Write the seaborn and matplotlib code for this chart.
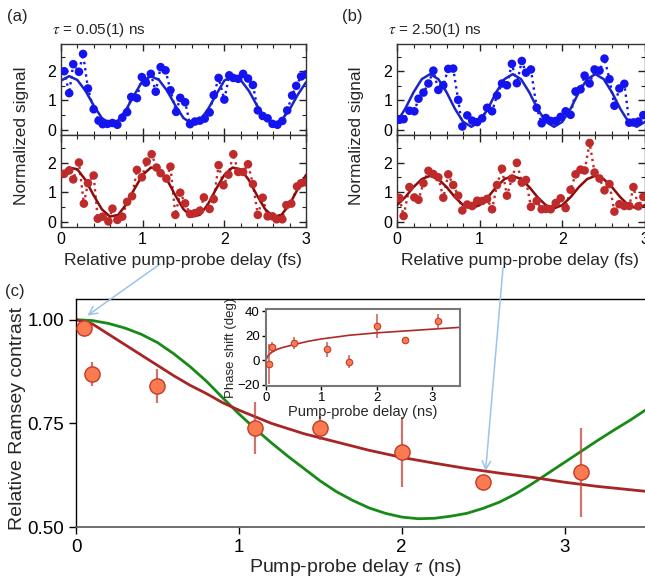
import matplotlib
matplotlib.use("Agg")
import matplotlib.pyplot as plt
import seaborn as sns
import pandas as pd
from matplotlib.ticker import MultipleLocator, FixedLocator, FixedFormatter

# ---------------- data ----------------
# panel (a): tau = 0.05 ns
a_x_top = [0.04,0.10,0.15,0.22,0.27,0.33,0.40,0.46,0.51,0.57,0.63,0.69,0.75,0.81,0.86,0.93,0.99,1.04,1.10,1.16,
           1.22,1.28,1.34,1.41,1.46,1.52,1.58,1.64,1.70,1.76,1.82,1.87,1.93,2.00,2.06,2.11,2.17,2.23,2.29,2.35,
           2.41,2.47,2.53,2.59,2.65,2.71,2.77,2.83,2.88,2.94,3.00]
a_y_top = [2.00,1.25,2.24,1.98,2.59,1.41,0.70,0.31,0.19,0.20,0.23,0.17,0.41,0.60,1.12,1.08,1.80,1.61,1.91,1.30,
           2.14,2.03,1.35,0.61,1.09,0.94,0.19,0.28,0.31,0.38,0.59,1.18,1.77,1.03,1.86,1.77,1.74,1.91,1.75,1.53,
           0.66,0.47,0.39,0.20,0.17,0.30,0.66,1.17,1.50,1.82,1.89]
a_x_bot = [0.04,0.10,0.15,0.22,0.28,0.33,0.40,0.45,0.51,0.58,0.63,0.69,0.75,0.81,0.87,0.93,0.99,1.05,1.11,1.17,
           1.22,1.29,1.34,1.40,1.46,1.52,1.58,1.64,1.70,1.75,1.82,1.87,1.93,1.99,2.05,2.11,2.17,2.23,2.29,2.35,
           2.41,2.47,2.53,2.59,2.64,2.71,2.76,2.82,2.89,2.94,3.00]
a_y_bot = [1.62,1.73,1.43,2.00,0.61,1.30,1.56,0.10,0.17,0.01,0.44,0.06,0.17,0.67,0.86,1.75,1.50,2.03,2.28,1.83,
           1.64,1.46,1.86,0.23,0.98,0.62,0.26,0.29,0.37,0.82,0.43,0.76,1.91,1.23,1.59,2.28,1.68,1.68,1.94,1.27,
           0.23,0.81,0.18,0.18,0.08,0.08,0.56,0.61,1.19,1.30,1.33]

# panel (b): tau = 2.50 ns
b_x = [0.03,0.08,0.15,0.21,0.26,0.32,0.38,0.44,0.50,0.56,0.62,0.68,0.74,0.79,0.85,0.91,0.97,1.03,1.09,1.15,
       1.21,1.27,1.33,1.39,1.45,1.51,1.56,1.62,1.69,1.75,1.80,1.86,1.92,1.98,2.04,2.10,2.16,2.22,2.27,2.33,
       2.39,2.45,2.51,2.57,2.63,2.69,2.75,2.81,2.86,2.92,2.98]
b_y_top = [0.34,0.36,0.65,0.63,1.06,1.27,1.58,2.02,1.36,1.52,2.08,2.09,1.02,0.11,0.49,0.31,0.26,0.39,0.75,0.63,
           1.17,1.58,1.52,2.25,1.59,2.35,1.95,2.06,0.75,0.22,0.40,0.30,0.30,0.44,0.63,0.51,1.31,1.38,1.85,1.58,
           2.06,2.02,2.43,1.73,0.82,1.41,1.57,0.24,0.25,0.28,0.50]
b_y_bot = [0.80,0.19,1.17,0.82,0.74,1.30,1.72,1.61,1.50,0.81,1.60,1.24,0.88,0.38,0.58,0.53,0.71,0.70,0.77,0.42,
           1.24,1.79,0.88,1.46,1.99,1.32,1.41,0.50,0.70,0.42,0.43,0.42,0.63,0.79,0.46,1.08,1.60,1.76,1.73,2.66,
           1.66,1.46,1.06,1.27,0.34,0.59,0.53,0.53,1.17,0.52,0.84]

# fitted sinusoids, read at 0.1 fs steps
fit_x = [0.0,0.1,0.2,0.3,0.4,0.5,0.6,0.7,0.8,0.9,1.0,1.1,1.2,1.3,1.4,1.5,1.6,1.7,1.8,1.9,
         2.0,2.1,2.2,2.3,2.4,2.5,2.6,2.7,2.8,2.9,3.0]
a_fit_top = [1.68,1.83,1.70,1.33,0.83,0.40,0.21,0.32,0.70,1.20,
             1.68,1.83,1.70,1.33,0.83,0.40,0.21,0.32,0.70,1.20,
             1.68,1.83,1.70,1.33,0.83,0.40,0.21,0.32,0.70,1.20,1.62]
a_fit_bot = [1.58,1.83,1.77,1.41,0.89,0.42,0.17,0.23,0.59,1.11,
             1.58,1.83,1.77,1.41,0.89,0.42,0.17,0.23,0.59,1.11,
             1.58,1.83,1.77,1.41,0.89,0.42,0.17,0.23,0.59,1.11,1.58]
b_fit_top = [0.27,0.72,1.28,1.73,1.90,1.73,1.28,0.72,0.27,0.10,
             0.27,0.72,1.28,1.73,1.90,1.73,1.28,0.72,0.27,0.10,
             0.27,0.72,1.28,1.73,1.90,1.73,1.28,0.72,0.27,0.10,0.27]
b_fit_bot = [0.56,0.83,1.17,1.44,1.55,1.44,1.17,0.83,0.56,0.45,
             0.56,0.83,1.17,1.44,1.55,1.44,1.17,0.83,0.56,0.45,
             0.56,0.83,1.17,1.44,1.55,1.44,1.17,0.83,0.56,0.45,0.56]

# panel (c): Ramsey contrast
c_delay = [0.05, 0.10, 0.50, 1.10, 1.50, 2.00, 2.50, 3.10]
c_contrast = [0.980, 0.869, 0.840, 0.738, 0.739, 0.681, 0.608, 0.632]
c_err = [0.015, 0.028, 0.042, 0.063, 0.028, 0.084, 0.0, 0.108]

c_red_x = [0.0,0.1,0.2,0.3,0.4,0.5,0.6,0.7,0.8,0.9,1.0,1.2,1.4,1.6,1.8,2.0,2.2,2.4,2.6,2.8,3.0,3.2,3.4,3.5]
c_red_y = [1.000,0.990,0.965,0.940,0.915,0.890,0.865,0.842,0.822,0.800,0.782,0.750,0.725,0.705,0.685,
           0.668,0.654,0.641,0.630,0.620,0.608,0.598,0.590,0.586]
c_green_x = [0.0,0.1,0.2,0.3,0.4,0.5,0.6,0.7,0.8,0.9,1.0,1.1,1.2,1.3,1.4,1.5,1.6,1.7,1.8,1.9,
             2.0,2.1,2.2,2.3,2.4,2.5,2.6,2.7,2.8,2.9,3.0,3.1,3.2,3.3,3.4,3.5]
c_green_y = [1.000,0.998,0.991,0.980,0.965,0.945,0.918,0.887,0.852,0.812,0.773,0.737,0.703,0.671,0.641,
             0.611,0.585,0.564,0.546,0.533,0.524,0.520,0.521,0.526,0.533,0.545,0.560,0.580,0.604,0.630,
             0.656,0.682,0.708,0.733,0.757,0.783]

# inset: phase shift
ins_delay = [0.05, 0.10, 0.50, 1.10, 1.50, 2.00, 2.50, 3.10]
ins_phase = [-3, 11, 14, 9, -1, 28, 17, 32]
ins_err = [16, 4, 5, 6, 5, 10, 0, 6]
ins_fit_x = [0.0,0.02,0.05,0.1,0.2,0.3,0.5,0.75,1.0,1.5,2.0,2.5,3.0,3.5]
ins_fit_y = [0.0,2.5,4.5,6.5,9.0,10.5,12.8,15.5,17.5,20.5,22.5,24.0,25.5,27.0]

# ---------------- style ----------------
sns.set_theme(style="ticks")
plt.rcParams["font.family"] = ["Liberation Sans", "DejaVu Sans"]
plt.rcParams["mathtext.fontset"] = "stix"
NARROW = ["Liberation Sans Narrow", "Liberation Sans", "DejaVu Sans"]

BLUE_PT = "#1414f0"
BLUE_LN = "#1a26c4"
RED_PT = "#bf2a2a"
RED_LN = "#8c0b0b"
C_RED = "#a82525"
C_GREEN = "#178a17"
C_FACE = "#fb7b50"
C_EDGE = "#c23b2b"
ARROW = "#9cc4ea"

W, H = 645, 578
fig = plt.figure(figsize=(W / 100, H / 100), dpi=100)


def px_axes(l, t, r, b):
    return fig.add_axes([l / W, 1 - b / H, (r - l) / W, (b - t) / H])


def style_osc(ax, show_x):
    ax.set_xlim(0, 3)
    ax.set_ylim(-0.18, 2.93)
    ax.xaxis.set_major_locator(MultipleLocator(1))
    ax.xaxis.set_minor_locator(MultipleLocator(0.2))
    ax.yaxis.set_major_locator(MultipleLocator(1))
    ax.yaxis.set_minor_locator(MultipleLocator(0.5))
    ax.tick_params(which="both", direction="in", top=True, right=True, colors="#222222",
                   labelsize=11.5, labelcolor="black")
    ax.tick_params(which="major", length=5, width=1)
    ax.tick_params(which="minor", length=3, width=0.8)
    for s in ax.spines.values():
        s.set_color("#333333")
        s.set_linewidth(1)
    ax.tick_params(labelbottom=show_x)
    ax.set_xlabel("")
    ax.set_ylabel("")


def osc_panel(ax, xs, ys, fx, fy, pt_color, ln_color, show_x):
    df = pd.DataFrame({"x": xs, "y": ys})
    fit = pd.DataFrame({"x": fx, "y": fy})
    sns.lineplot(data=df, x="x", y="y", ax=ax, color=pt_color, linestyle=":", linewidth=1.7,
                 sort=False, estimator=None)
    sns.lineplot(data=fit, x="x", y="y", ax=ax, color=ln_color, linewidth=1.8,
                 sort=False, estimator=None)
    sns.scatterplot(data=df, x="x", y="y", ax=ax, color=pt_color, s=38, edgecolor="none", zorder=3)
    style_osc(ax, show_x)


# panel (a)
ax_a1 = px_axes(61, 44, 306, 135)
ax_a2 = px_axes(61, 135, 306, 227)
osc_panel(ax_a1, a_x_top, a_y_top, fit_x, a_fit_top, BLUE_PT, BLUE_LN, False)
osc_panel(ax_a2, a_x_bot, a_y_bot, fit_x, a_fit_bot, RED_PT, RED_LN, True)

# panel (b)
ax_b1 = px_axes(397, 44, 645, 135)
ax_b2 = px_axes(397, 135, 645, 227)
osc_panel(ax_b1, b_x, b_y_top, fit_x, b_fit_top, BLUE_PT, BLUE_LN, False)
osc_panel(ax_b2, b_x, b_y_bot, fit_x, b_fit_bot, RED_PT, RED_LN, True)

# labels for (a) and (b)
fig.text(17 / W, 1 - 17 / H, "(a)", fontsize=12, ha="center", va="center")
fig.text(352 / W, 1 - 17 / H, "(b)", fontsize=12, ha="center", va="center")
fig.text(52 / W, 1 - 30 / H, r"$\tau$ = 0.05(1) ns", fontsize=11, ha="left", va="center")
fig.text(388 / W, 1 - 30 / H, r"$\tau$ = 2.50(1) ns", fontsize=11, ha="left", va="center")
for xc in (22, 357):
    fig.text(xc / W, 1 - 136 / H, "Normalized signal", fontsize=12.5, rotation=90,
             ha="center", va="center")
fig.text(183 / W, 1 - 260 / H, "Relative pump-probe delay (fs)", fontsize=12.5, ha="center", va="center")
fig.text(520 / W, 1 - 260 / H, "Relative pump-probe delay (fs)", fontsize=12.5, ha="center", va="center")

# panel (c)
axc = px_axes(76, 299, 646, 527)
cdf = pd.DataFrame({"delay": c_delay, "contrast": c_contrast})
sns.lineplot(x=c_green_x, y=c_green_y, ax=axc, color=C_GREEN, linewidth=2, sort=False, estimator=None)
sns.lineplot(x=c_red_x, y=c_red_y, ax=axc, color=C_RED, linewidth=2, sort=False, estimator=None)
axc.errorbar(c_delay, c_contrast, yerr=c_err, fmt="none", ecolor="#c0443c", alpha=0.75,
             elinewidth=1.6, capsize=0, zorder=3)
sns.scatterplot(data=cdf, x="delay", y="contrast", ax=axc, s=120, color=C_FACE,
                edgecolor=C_EDGE, linewidth=1, zorder=4)
axc.set_xlim(0, 3.5)
axc.set_ylim(0.5, 1.05)
axc.xaxis.set_major_locator(FixedLocator([0, 1, 2, 3]))
axc.yaxis.set_major_locator(FixedLocator([0.5, 0.75, 1.0]))
axc.yaxis.set_major_formatter(FixedFormatter(["0.50", "0.75", "1.00"]))
axc.tick_params(which="major", direction="out", length=5, width=1, labelsize=13.5, colors="black")
for lab in axc.get_xticklabels() + axc.get_yticklabels():
    lab.set_family(NARROW)
axc.spines["right"].set_visible(False)
for s in ("left", "top"):
    axc.spines[s].set_color("black")
    axc.spines[s].set_linewidth(1)
axc.spines["bottom"].set_color("#555555")
axc.spines["bottom"].set_linewidth(1.2)
axc.set_xlabel("")
axc.set_ylabel("")
fig.text(15 / W, 1 - 291 / H, "(c)", fontsize=12, ha="center", va="center")
fig.text(18 / W, 1 - 418 / H, "Relative Ramsey contrast", fontsize=14, rotation=90,
         ha="center", va="center", family=NARROW)
fig.text(355 / W, 1 - 567 / H, r"Pump-probe delay $\tau$ (ns)", fontsize=14,
         ha="center", va="center", family=NARROW)

# arrows linking (a),(b) to (c)
axc.annotate("", xy=(0.07, 1.01), xycoords="data", xytext=(160 / W, 1 - 264 / H),
             textcoords="figure fraction", annotation_clip=False,
             arrowprops=dict(arrowstyle="->,head_length=0.5,head_width=0.25", color=ARROW,
                             lw=1.1, shrinkA=0, shrinkB=0))
axc.annotate("", xy=(2.515, 0.635), xycoords="data", xytext=(503 / W, 1 - 268 / H),
             textcoords="figure fraction", annotation_clip=False,
             arrowprops=dict(arrowstyle="->,head_length=0.5,head_width=0.25", color=ARROW,
                             lw=1.1, shrinkA=0, shrinkB=0))

# inset
axi = px_axes(266, 309, 460, 386)
axi.set_facecolor("white")
idf = pd.DataFrame({"delay": ins_delay, "phase": ins_phase})
sns.lineplot(x=ins_fit_x, y=ins_fit_y, ax=axi, color="#b02828", linewidth=1.2, sort=False, estimator=None)
axi.errorbar(ins_delay, ins_phase, yerr=ins_err, fmt="none", ecolor="#c0443c", alpha=0.75,
             elinewidth=1.3, capsize=0, zorder=3)
sns.scatterplot(data=idf, x="delay", y="phase", ax=axi, s=22, color=C_FACE, edgecolor=C_EDGE,
                linewidth=0.8, zorder=4)
axi.set_xlim(0, 3.5)
axi.set_ylim(-21, 42)
axi.xaxis.set_major_locator(FixedLocator([0, 1, 2, 3]))
axi.yaxis.set_major_locator(FixedLocator([-20, 0, 20, 40]))
axi.yaxis.set_major_formatter(FixedFormatter(["\u221220", "0", "20", "40"]))
axi.tick_params(which="major", direction="out", length=3, width=1, labelsize=9.5, colors="black", pad=1.5)
for lab in axi.get_xticklabels() + axi.get_yticklabels():
    lab.set_family(NARROW)
for s in axi.spines.values():
    s.set_color("#777777")
    s.set_linewidth(1.5)
axi.set_xlabel("Pump-probe delay (ns)", fontsize=10.5, family=NARROW, labelpad=0.5)
axi.set_ylabel("Phase shift (deg)", fontsize=9.5, family=NARROW, labelpad=0.5)

fig.savefig("out.png", dpi=100)
